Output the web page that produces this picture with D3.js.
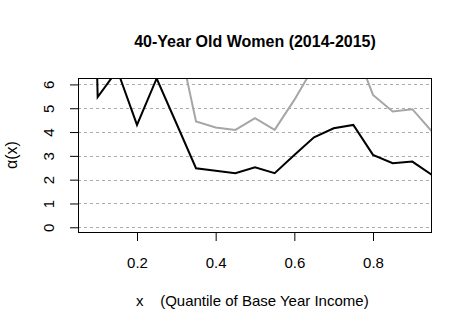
<!DOCTYPE html>
<html>
<head>
<meta charset="utf-8">
<script src="https://cdn.jsdelivr.net/npm/d3@7"></script>
<style>
body { margin: 0; background: #fff; }
svg { font-family: "Liberation Sans", Arial, sans-serif; }
</style>
</head>
<body>
<div id="idChart"></div>
<script>
// quantiles of base year income
var xValues = [0.05, 0.10, 0.15, 0.20, 0.25, 0.30, 0.35, 0.40, 0.45, 0.50,
               0.55, 0.60, 0.65, 0.70, 0.75, 0.80, 0.85, 0.90, 0.95];
// black line
var blackValues = [40, 5.47, 6.6, 4.30, 6.25, 4.37, 2.48, 2.37, 2.27, 2.52,
                   2.27, 3.04, 3.78, 4.16, 4.30, 3.04, 2.69, 2.76, 2.2];
// gray line (off the top on the left)
var grayValues = [12, 11, 10, 10, 9, 8.3, 4.44, 4.19, 4.09, 4.58,
                  4.09, 5.35, 6.76, 8, 7.7, 5.56, 4.86, 4.96, 4.02];
var xTicks = [0.2, 0.4, 0.6, 0.8];
var yTicks = [0, 1, 2, 3, 4, 5, 6];

var sTitle = "40-Year Old Women (2014-2015)";

function drawChart()
{
    var iWidth = 472;
    var iHeight = 331;
    var margin = {top: 78, right: 40, bottom: 98, left: 78};

    var svg = d3.select("#idChart").append("svg")
        .attr("width", iWidth)
        .attr("height", iHeight);

    var x = d3.scaleLinear()
        .domain([0.05, 0.95])
        .range([margin.left, iWidth - margin.right]);

    var y = d3.scaleLinear()
        .domain([-0.24, 6.27])
        .range([iHeight - margin.bottom, margin.top]);

    svg.append("clipPath").attr("id", "clip")
        .append("rect")
        .attr("x", margin.left)
        .attr("y", margin.top)
        .attr("width", iWidth - margin.left - margin.right)
        .attr("height", iHeight - margin.top - margin.bottom);

    // dotted grid
    svg.append("g").selectAll("line")
        .data(yTicks)
        .enter().append("line")
        .attr("x1", margin.left)
        .attr("x2", iWidth - margin.right)
        .attr("y1", function(d) { return Math.round(y(d)) + 0.5; })
        .attr("y2", function(d) { return Math.round(y(d)) + 0.5; })
        .attr("stroke", "#aaaaaa")
        .attr("stroke-dasharray", "3,3");

    var rowsBlack = xValues.map(function(d, i) { return {no: d, value: blackValues[i]}; });
    var rowsGray = xValues.map(function(d, i) { return {no: d, value: grayValues[i]}; });

    var valueLine = d3.line()
        .x(function(d) { return x(d.no); })
        .y(function(d) { return y(d.value); });

    var lines = svg.append("g").attr("clip-path", "url(#clip)");

    lines.append("path")
        .attr("d", valueLine(rowsGray))
        .attr("fill", "none")
        .attr("stroke", "#a6a6a6")
        .attr("stroke-width", 2);

    lines.append("path")
        .attr("d", valueLine(rowsBlack))
        .attr("fill", "none")
        .attr("stroke", "#000")
        .attr("stroke-width", 2);

    // box
    svg.append("rect")
        .attr("x", margin.left + 0.5)
        .attr("y", margin.top + 0.5)
        .attr("width", iWidth - margin.left - margin.right - 1)
        .attr("height", iHeight - margin.top - margin.bottom - 1)
        .attr("fill", "none")
        .attr("stroke", "#000");

    var xAxis = d3.axisBottom(x).tickValues(xTicks).tickSize(8).tickSizeOuter(0)
        .tickFormat(d3.format(".1f"));
    var gx = svg.append("g")
        .attr("transform", "translate(0," + (iHeight - margin.bottom) + ")")
        .call(xAxis);
    gx.select(".domain").remove();
    gx.selectAll("text").attr("font-size", 15).attr("fill", "#000").attr("y", 0).attr("dy", 0)
        .attr("transform", "translate(0,35)");

    var yAxis = d3.axisLeft(y).tickValues(yTicks).tickSize(8).tickSizeOuter(0)
        .tickFormat(d3.format("d"));
    var gy = svg.append("g")
        .attr("transform", "translate(" + margin.left + ",0)")
        .call(yAxis);
    gy.select(".domain").remove();
    gy.selectAll("text")
        .attr("font-size", 15)
        .attr("fill", "#000")
        .attr("x", 0)
        .attr("y", 0)
        .attr("dy", "0.35em")
        .attr("text-anchor", "middle")
        .attr("transform", "translate(-29,0) rotate(-90)");

    svg.append("text")
        .attr("x", (margin.left + iWidth - margin.right) / 2)
        .attr("y", 47)
        .attr("text-anchor", "middle")
        .attr("font-size", 16)
        .attr("font-weight", "bold")
        .text(sTitle);

    svg.append("text")
        .attr("transform", "translate(17,155) rotate(-90)")
        .attr("text-anchor", "middle")
        .attr("font-size", 16)
        .text("\u03b1(x)");

    svg.append("text")
        .attr("x", 136)
        .attr("y", 306)
        .attr("font-size", 15)
        .attr("xml:space", "preserve")
        .text("x    (Quantile of Base Year Income)");
}

drawChart();
</script>
</body>
</html>
